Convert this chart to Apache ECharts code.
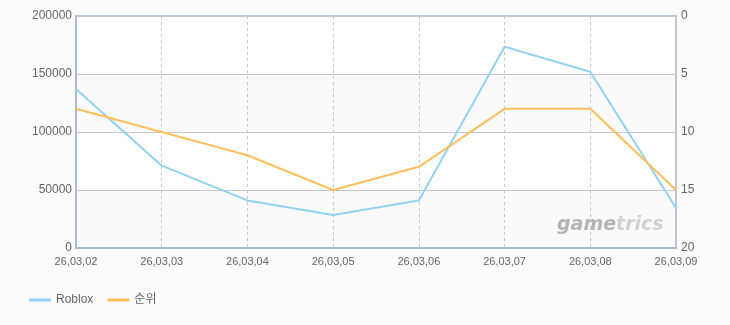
<!DOCTYPE html>
<html><head><meta charset="utf-8">
<script src="https://cdn.jsdelivr.net/npm/echarts@6/dist/echarts.min.js"></script>
<style>html,body{margin:0;padding:0;background:#fbfbfb}#c{width:730px;height:325px}</style>
</head><body><div id="c"></div>
<script>
const categories = ['26,03,02','26,03,03','26,03,04','26,03,05','26,03,06','26,03,07','26,03,08','26,03,09'];
const robloxValues = [137000, 71000, 41000, 28500, 41000, 173500, 152000, 34500];
const rankValues = [8, 10, 12, 15, 13, 8, 8, 15];
const seriesNames = ['Roblox', '순위'];

const font = '"Liberation Sans", "Noto Sans CJK KR", sans-serif';
const chart = echarts.init(document.getElementById('c'));
chart.setOption({
  backgroundColor: '#fbfbfb',
  animation: false,
  grid: { left: 76, right: 54, top: 16, bottom: 77, show: true, backgroundColor: 'transparent', borderColor: '#b7c8da', borderWidth: 2 },
  legend: {
    left: 24, bottom: 14, itemWidth: 22, itemHeight: 3, itemGap: 14,
    icon: 'rect',
    textStyle: { color: '#666', fontSize: 12, fontFamily: font },
    data: seriesNames
  },
  xAxis: {
    type: 'category', data: categories, boundaryGap: false,
    axisLine: { lineStyle: { color: '#a9bdd2', width: 2 } },
    axisTick: { show: false },
    axisLabel: { color: '#666', fontSize: 11, fontFamily: font, margin: 8, interval: 0 },
    splitLine: { show: true, lineStyle: { color: '#c8c8c8', type: [3, 3], width: 1 } }
  },
  yAxis: [{
    type: 'value', min: 0, max: 200000, interval: 50000,
    axisLine: { show: true, lineStyle: { color: '#a9bdd2', width: 2 } },
    axisTick: { show: false },
    axisLabel: { color: '#666', fontSize: 12, fontFamily: font, margin: 4, formatter: v => String(v) },
    splitLine: { lineStyle: { color: '#c8c8c8', width: 1 } },
    splitArea: { show: true, areaStyle: { color: ['#fafafa', '#ffffff'] } }
  }, {
    type: 'value', min: 0, max: 20, interval: 5, inverse: true,
    axisLine: { show: true, lineStyle: { color: '#b7c8da', width: 2 } },
    axisTick: { show: false },
    axisLabel: { color: '#666', fontSize: 12, fontFamily: font, margin: 5 },
    splitLine: { show: false }
  }],
  graphic: [{
    type: 'text', left: 557, top: 216,
    style: {
      text: '{a|game}{b|trics}',
      rich: {
        a: { fill: '#b4b4b4', font: 'italic bold 19px "DejaVu Sans", sans-serif' },
        b: { fill: '#d2d2d2', font: 'italic bold 19px "DejaVu Sans", sans-serif' }
      }
    },
    z: 1
  }],
  series: [{
    name: seriesNames[0], type: 'line', data: robloxValues, yAxisIndex: 0,
    symbol: 'none', lineStyle: { color: '#93d2f2', width: 2 }, itemStyle: { color: '#93d2f2' }, z: 3
  }, {
    name: seriesNames[1], type: 'line', data: rankValues, yAxisIndex: 1,
    symbol: 'none', lineStyle: { color: '#ffbf5e', width: 2 }, itemStyle: { color: '#ffbf5e' }, z: 3
  }]
});
</script></body></html>
